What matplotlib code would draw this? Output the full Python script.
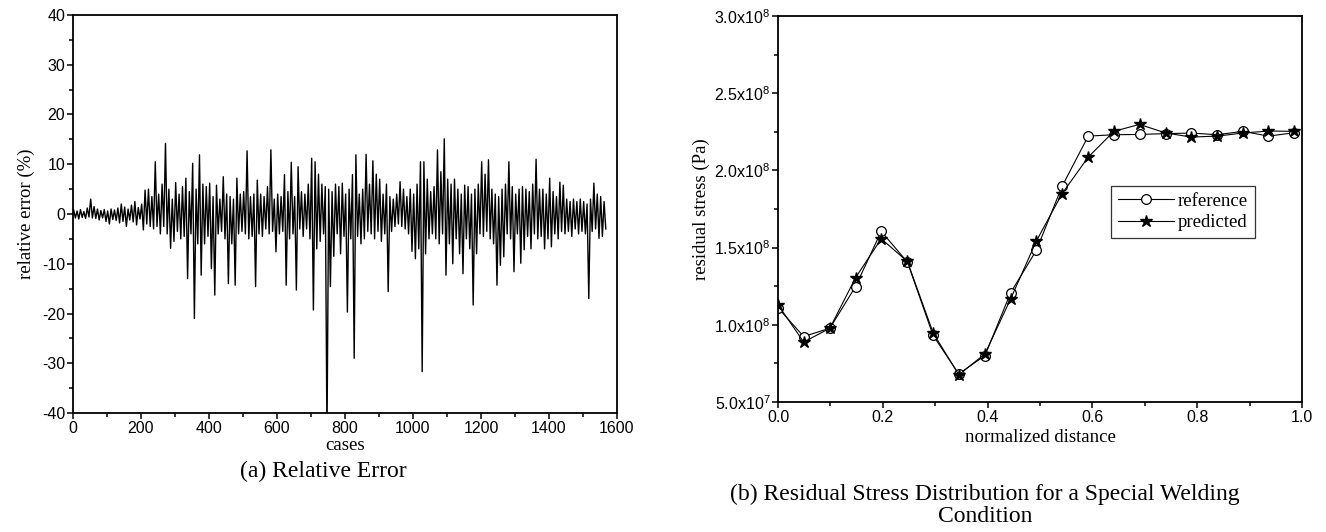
import numpy as np
import matplotlib
matplotlib.use("Agg")
import matplotlib.pyplot as plt
from matplotlib.ticker import MultipleLocator, FuncFormatter

# ---------------- data ----------------
# (a) relative error: per 10-case bin, upper and lower excursion (%)
err_hi = [0.8, 0.6, 0.9, 0.5, 1.2, 3.0, 1.5, 1.0, 0.7, 0.9,
          0.6, 1.0, 0.8, 1.2, 2.0, 1.4, 1.0, 1.8, 2.5, 1.3,
          2.0, 4.8, 5.0, 3.5, 10.5, 4.0, 6.0, 14.2, 5.0, 3.0,
          6.3, 4.0, 5.5, 7.2, 4.5, 10.2, 5.0, 11.9, 6.0, 5.5,
          6.2, 3.5, 5.8, 3.0, 7.5, 4.0, 3.5, 3.0, 7.2, 4.0,
          4.5, 12.7, 3.5, 4.0, 6.8, 4.0, 3.5, 5.5, 12.9, 3.0,
          4.0, 3.5, 7.9, 4.5, 10.4, 3.5, 9.5, 4.5, 4.0, 6.0,
          11.2, 10.5, 8.0, 6.0, 5.5, 5.0, 4.5, 6.0, 5.5, 6.2,
          4.0, 5.0, 7.9, 11.9, 4.0, 5.0, 12.0, 6.0, 10.7, 8.0,
          7.0, 4.0, 6.0, 3.5, 3.0, 4.0, 6.5, 5.0, 3.5, 5.0,
          4.0, 6.0, 10.5, 10.5, 7.0, 4.5, 5.5, 12.9, 8.5, 15.1,
          7.0, 6.0, 7.0, 5.0, 4.0, 5.8, 5.5, 4.0, 5.0, 6.0,
          10.5, 8.0, 10.9, 5.0, 4.0, 3.5, 5.0, 6.0, 10.5, 5.5,
          4.0, 5.0, 5.5, 5.0, 4.5, 6.0, 11.0, 5.0, 5.0, 4.0,
          7.2, 4.5, 3.5, 6.4, 5.8, 3.0, 2.5, 3.0, 2.5, 3.0,
          2.5, 2.0, 3.0, 6.2, 4.0, 3.5, 2.5]
err_lo = [-0.8, -1.0, -0.7, -0.9, -0.6, -0.8, -0.9, -1.2, -0.8, -1.5,
          -2.0, -1.1, -1.3, -1.8, -1.5, -2.5, -1.2, -1.6, -2.2, -1.0,
          -3.2, -2.0, -2.5, -3.0, -2.5, -4.0, -2.5, -4.0, -6.9, -5.5,
          -3.5, -5.0, -4.5, -13.0, -4.0, -21.0, -6.0, -12.3, -6.0, -4.5,
          -11.0, -16.3, -4.0, -3.5, -5.0, -14.0, -6.0, -14.3, -4.0, -3.5,
          -4.0, -5.0, -4.5, -14.6, -4.0, -4.5, -3.0, -4.0, -3.5, -7.6,
          -4.0, -3.5, -14.3, -5.0, -4.0, -15.3, -3.0, -4.5, -3.0, -5.0,
          -19.3, -7.0, -5.5, -4.0, -45.0, -14.6, -8.5, -4.0, -8.0, -4.5,
          -19.7, -5.0, -29.0, -4.5, -6.0, -5.0, -3.5, -4.0, -5.0, -3.5,
          -5.5, -4.0, -15.6, -3.5, -2.5, -2.0, -2.5, -3.0, -4.0, -7.5,
          -9.0, -7.0, -31.7, -8.0, -5.0, -4.0, -5.0, -6.0, -4.0, -12.3,
          -6.0, -10.0, -5.0, -8.0, -12.0, -5.0, -7.0, -18.3, -8.0, -4.0,
          -4.5, -3.5, -5.0, -6.0, -14.3, -10.3, -8.6, -4.0, -5.0, -11.6,
          -4.0, -9.9, -7.2, -4.5, -7.0, -4.0, -5.0, -4.5, -7.0, -5.0,
          -6.6, -4.0, -5.0, -3.5, -4.0, -3.5, -4.5, -3.0, -4.0, -3.5,
          -4.0, -17.0, -3.5, -3.0, -4.9, -4.5, -3.0]
bin_cases = 10

# (b) residual stress distribution
dist = [0.000, 0.049, 0.099, 0.148, 0.197, 0.247, 0.296, 0.345, 0.395, 0.444,
        0.493, 0.542, 0.592, 0.641, 0.690, 0.740, 0.789, 0.838, 0.887, 0.936, 0.985]
stress_ref = [1.11e8, 0.924e8, 0.978e8, 1.248e8, 1.605e8, 1.406e8, 0.931e8, 0.682e8, 0.801e8, 1.208e8,
              1.482e8, 1.896e8, 2.222e8, 2.231e8, 2.233e8, 2.238e8, 2.242e8, 2.231e8, 2.253e8, 2.222e8, 2.244e8]
stress_pred = [1.13e8, 0.888e8, 0.978e8, 1.305e8, 1.557e8, 1.41e8, 0.948e8, 0.676e8, 0.812e8, 1.168e8,
               1.542e8, 1.849e8, 2.086e8, 2.253e8, 2.298e8, 2.242e8, 2.216e8, 2.222e8, 2.242e8, 2.255e8, 2.253e8]

# ---------------- style ----------------
plt.rcParams['mathtext.fontset'] = 'custom'
plt.rcParams['mathtext.rm'] = 'Liberation Sans'
plt.rcParams['mathtext.it'] = 'Liberation Sans'
plt.rcParams['axes.unicode_minus'] = False
SANS = 'Liberation Sans'
SERIF = 'Liberation Serif'

fig = plt.figure(figsize=(13.26, 5.32), dpi=100)
W, H = 1326.0, 532.0

def axes_px(l, t, r, b):
    return fig.add_axes([l / W, 1 - b / H, (r - l) / W, (b - t) / H])

def style_axes(ax):
    for s in ax.spines.values():
        s.set_linewidth(1.3)
    ax.tick_params(which='both', direction='out', top=False, right=False,
                   labelsize=11.5, width=1.1, labelfontfamily=SANS, pad=1.0)
    ax.tick_params(which='major', length=4.5)
    ax.tick_params(which='minor', length=3)

def xlabel_at(ax, text, y_px, bottom_px, height_px):
    ax.set_xlabel(text, fontfamily=SERIF, fontsize=13.5, va='center')
    ax.xaxis.set_label_coords(0.5, (bottom_px - y_px) / height_px)

# ---------------- (a) ----------------
ax1 = axes_px(73, 15, 617, 413)
vals = []
for h, l in zip(err_hi, err_lo):
    vals.extend([h, l])
vals = np.array(vals)
cases = np.arange(len(vals)) * (bin_cases / 2) + 2
ax1.plot(cases, vals, color='black', lw=1.0)
ax1.set_xlim(0, 1600)
ax1.set_ylim(-40, 40)
ax1.xaxis.set_major_locator(MultipleLocator(200))
ax1.xaxis.set_minor_locator(MultipleLocator(100))
ax1.yaxis.set_major_locator(MultipleLocator(10))
ax1.yaxis.set_minor_locator(MultipleLocator(5))
style_axes(ax1)
xlabel_at(ax1, 'cases', 446, 413, 398)
ax1.set_ylabel('relative error (%)', fontfamily=SERIF, fontsize=13.5, labelpad=5)
fig.text(323 / W, 1 - 471 / H, '(a) Relative Error', ha='center', va='center',
         fontfamily=SERIF, fontsize=17)

# ---------------- (b) ----------------
ax2 = axes_px(778, 16, 1302, 402)
ax2.plot(dist, stress_ref, color='black', lw=0.8, marker='o', ms=7,
         mfc='white', mec='black', mew=0.9, label='reference')
ax2.plot(dist, stress_pred, color='black', lw=0.8, marker='*', ms=9,
         mfc='black', mec='black', label='predicted')
ax2.set_xlim(0, 1.0)
ax2.set_ylim(5e7, 3e8)
ax2.xaxis.set_major_locator(MultipleLocator(0.2))
ax2.xaxis.set_minor_locator(MultipleLocator(0.1))
ax2.yaxis.set_major_locator(MultipleLocator(5e7))
ax2.yaxis.set_minor_locator(MultipleLocator(2.5e7))
ax2.xaxis.set_major_formatter(FuncFormatter(lambda v, p: f'{v:.1f}'))

def sci_fmt(v, p):
    if v <= 0:
        return ''
    e = int(np.floor(np.log10(v) + 1e-9))
    m = v / 10 ** e
    return f'{m:.1f}x10$^{{{e}}}$'

ax2.yaxis.set_major_formatter(FuncFormatter(sci_fmt))
style_axes(ax2)
xlabel_at(ax2, 'normalized distance', 437, 402, 386)
ax2.set_ylabel('residual stress (Pa)', fontfamily=SERIF, fontsize=13.5, labelpad=3)
leg = ax2.legend(loc='upper left', bbox_to_anchor=(0.636, 0.56), prop={'family': SERIF, 'size': 13.5},
                 frameon=True, fancybox=False, edgecolor='black', handlelength=3.0,
                 borderpad=0.35, labelspacing=0.25, handletextpad=0.2, borderaxespad=0)
leg.get_frame().set_linewidth(0.9)
fig.text(985 / W, 1 - 494 / H, '(b) Residual Stress Distribution for a Special Welding',
         ha='center', va='center', fontfamily=SERIF, fontsize=17)
fig.text(985 / W, 1 - 516 / H, 'Condition',
         ha='center', va='center', fontfamily=SERIF, fontsize=17)

fig.savefig('out.png', dpi=100)
